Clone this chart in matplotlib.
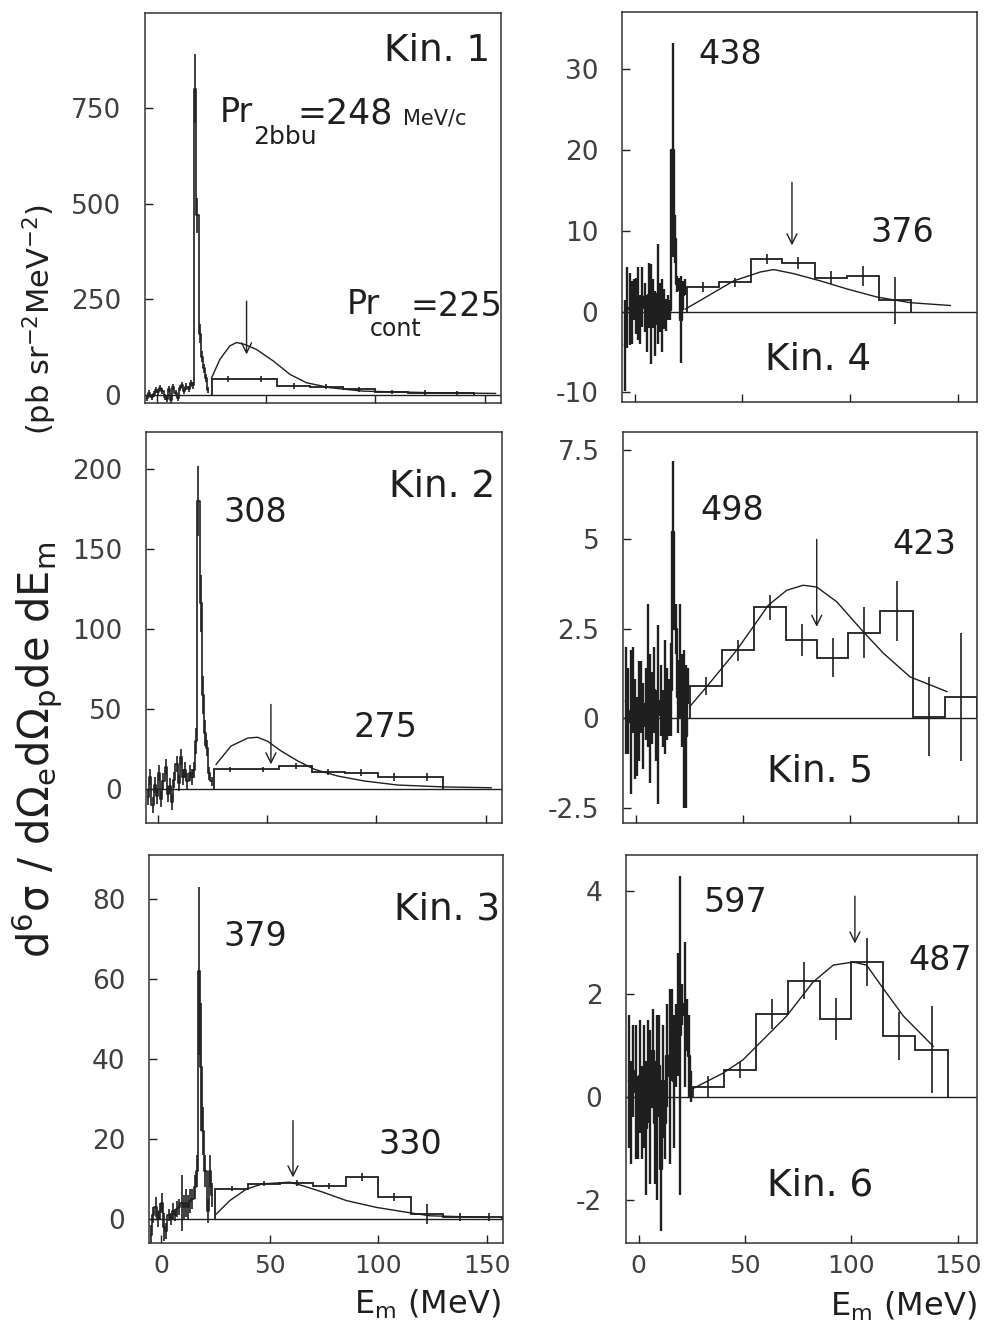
import numpy as np
import matplotlib
matplotlib.use('Agg')
import matplotlib.pyplot as plt

plt.rcParams['font.family'] = ['DejaVu Sans']
plt.rcParams['mathtext.fontset'] = 'dejavusans'
plt.rcParams['axes.unicode_minus'] = False

W, H = 984, 1322
INK = '0.12'

# fine-binned spectrum centres (1 MeV bins), shared by all panels
FINE_E = [-4.5, -3.5, -2.5, -1.5, -0.5, 0.5, 1.5, 2.5, 3.5, 4.5,
          5.5, 6.5, 7.5, 8.5, 9.5, 10.5, 11.5, 12.5, 13.5, 14.5,
          15.5, 16.5, 17.5, 18.5, 19.5, 20.5, 21.5, 22.5, 23.5, 24.5]

KIN_LABELS = ['Kin. 1', 'Kin. 2', 'Kin. 3', 'Kin. 4', 'Kin. 5', 'Kin. 6']
P_2BBU = [248, 308, 379, 438, 498, 597]
P_CONT = [225, 275, 330, 376, 423, 487]

# Kin. 1
K1_FINE = [-8, 5, -6, 3, 12, 8, 18, 10, -5, -10, 15, -12, 20, 5, -8, 18, 25, 10, 22, 15,
           30, 25, 800, 469, 160, 100, 70, 45, 13]
K1_FINE_ERR = [8, 8, 8, 8, 8, 8, 8, 8, 8, 8, 8, 8, 8, 8, 8, 8, 8, 8, 8, 8,
               8, 10, 90, 45, 25, 15, 12, 10, 8]
K1_EDGES = [25, 40, 55, 70, 85, 100, 115, 130, 145]
K1_CONT = [41, 41, 23, 22, 15, 8, 6, 5]
K1_CONT_ERR = [8, 8, 7, 7, 6, 6, 6, 6]
K1_TH_E = [25, 28.8, 33.3, 36.4, 40.2, 45.5, 53.2, 60.8, 68.4, 79.1, 94.3, 124.8, 155]
K1_TH_V = [45, 93, 128, 137, 132, 119, 89, 54, 32, 19, 10, 6, 4]
K1_ARROW = (41, 245, 106)

# Kin. 2
K2_FINE = [-5, 8, -10, 3, -4, 10, -6, 5, 14, -3, 2, -8, 6, 16, 4, 20, 8, 12, 5, 10,
           8, 12, 30, 180, 116, 59, 35, 26, 10, 5]
K2_FINE_ERR = [5, 5, 5, 5, 5, 5, 5, 5, 5, 5, 5, 5, 5, 5, 5, 5, 5, 5, 5, 5,
               5, 5, 8, 22, 18, 12, 8, 5, 4, 3]
K2_EDGES = [25.5, 40.5, 55.5, 70.5, 85.5, 100.5, 115.5, 130.5]
K2_CONT = [12.5, 12.5, 14.6, 11.0, 10.4, 7.7, 7.5]
K2_CONT_ERR = [1.5, 1.5, 1.8, 1.8, 2.0, 2.2, 2.5]
K2_TH_E = [26.6, 33.4, 41.1, 45.6, 50.2, 56.3, 64, 71.6, 82.3, 94.5, 109.7, 131, 152.5]
K2_TH_V = [15.6, 27, 32, 32.5, 30, 24, 17.7, 12.5, 8.3, 5.2, 2.7, 1.5, 1.0]
K2_ARROW = (51.7, 53, 15.6)

# Kin. 3
K3_FINE = [-4, 1, 3, 0, 2, 4, -2, -3, 1, 0, 2, 1, 2.5, 3, 4, 3, 4, 3, 4.5, 5,
           8, 12, 62, 38, 22, 12, 2, 12, 6]
K3_FINE_ERR = [2.5, 2, 2.5, 2, 2, 2.5, 3.5, 2, 1.5, 1.5, 2, 1.5, 2, 2, 7, 3, 3.5, 3, 3, 2.5,
               3, 4, 21, 16, 6, 4, 3, 4, 3]
K3_EDGES = [25, 40, 55, 70, 85, 100, 115, 130, 145, 157]
K3_CONT = [7.6, 8.8, 9.0, 8.3, 10.5, 5.4, 1.3, 0.6, 0.5]
K3_CONT_ERR = [0.6, 0.6, 0.7, 0.8, 0.9, 1.0, 2.5, 1.0, 1.0]
K3_TH_E = [25.5, 31.7, 39.4, 47, 59.3, 65.4, 74.6, 85.4, 99.2, 113, 123.8, 149.9]
K3_TH_V = [1.25, 4.6, 7.5, 8.8, 9.2, 8.3, 6.7, 4.6, 2.9, 1.7, 0.8, 0.4]
K3_ARROW = (60.8, 24.6, 10.4)

# Kin. 4
K4_FINE = [-4.2, 0.5, 0.3, -0.1, 1.5, 0.7, 1.0, -1.0, 1.8, 0.5, -1.5, 2.0, -0.3, 1.0, -1.5,
           2.2, 0.5, -0.5, 0.3, -0.4, 0.5, 0.2, 20.0, 9.0, 3.4, 3.3, -1.0, 2.0, 3.0]
K4_FINE_ERR = [5.6, 5.0, 4.5, 3.9, 2.5, 3.5, 4.5, 3.0, 3.7, 3.0, 3.5, 4.0, 6.2, 3.0, 4.0,
               6.2, 3.0, 4.5, 2.5, 2.0, 1.5, 1.2, 13.3, 3.0, 1.0, 0.8, 5.4, 1.8, 1.0]
K4_EDGES = [24, 39, 54, 68.5, 83.5, 98.5, 113.5, 128.5]
K4_CONT = [3.0, 3.6, 6.5, 6.0, 4.2, 4.4, 1.4]
K4_CONT_ERR = [0.6, 0.5, 0.6, 0.7, 0.8, 1.2, 2.9]
K4_TH_E = [23.4, 35, 45.9, 58.3, 64.5, 73.7, 86.2, 98.6, 112.5, 128, 146.6]
K4_TH_V = [0.3, 2.1, 3.8, 4.9, 5.2, 4.7, 3.8, 2.8, 1.8, 1.1, 0.75]
K4_ARROW = (73, 16, 8.2)

# Kin. 5
K5_FINE = [0.5, 0.2, -0.1, 0.8, -0.3, -0.5, 0.2, 0.6, -0.2, 0.4, 1.2, 0.0, 0.3, 0.8, -0.2,
           0.1, 0.5, 0.0, 0.6, 0.4, 0.3, 0.8, 5.2, 2.5, 0.6, 1.6, 0.5, -0.3, -0.5, 0.9]
K5_FINE_ERR = [1.5, 1.2, 2.0, 1.2, 1.4, 1.1, 1.4, 1.0, 1.2, 1.0, 2.0, 1.8, 1.0, 1.2, 1.0,
               2.5, 1.0, 0.8, 1.6, 1.0, 0.8, 1.3, 2.0, 0.7, 1.0, 1.6, 1.3, 2.2, 2.0, 0.5]
K5_EDGES = [25, 40, 55, 70, 84.5, 99, 114, 129, 144, 159]
K5_CONT = [0.9, 1.9, 3.1, 2.2, 1.7, 2.4, 3.0, 0.05, 0.6]
K5_CONT_ERR = [0.25, 0.3, 0.35, 0.45, 0.55, 0.7, 0.85, 1.1, 1.8]
K5_TH_E = [25.1, 32.9, 46.9, 54.7, 61.7, 70.3, 78, 84.3, 93.6, 106, 115.4, 127.8, 145]
K5_TH_V = [0.33, 0.88, 1.9, 2.56, 3.16, 3.58, 3.72, 3.67, 3.26, 2.42, 1.82, 1.16, 0.75]
K5_ARROW = (84.3, 5.0, 2.56)

# Kin. 6
K6_FINE = [0.3, -0.3, 0.5, 0.1, -0.4, 0.4, -0.3, 0.2, -0.6, 0.5, -0.2, 0.9, -0.5, -0.2, 0.6,
           -1.4, 0.3, -0.5, 0.8, 0.4, 1.2, 0.3, 1.0, 1.6, 1.2, 1.8, 1.6, 1.4, 0.8, 0.2]
K6_FINE_ERR = [1.3, 1.0, 0.9, 1.3, 0.8, 1.1, 0.9, 1.2, 1.3, 1.0, 1.5, 0.8, 1.2, 1.8, 1.0,
               1.2, 1.1, 0.7, 1.0, 1.7, 0.9, 1.3, 0.8, 1.2, 3.1, 0.4, 1.4, 0.5, 0.8, 0.3]
K6_EDGES = [25.5, 40, 55, 70, 85, 100, 115, 130, 145.5]
K6_CONT = [0.2, 0.52, 1.61, 2.26, 1.51, 2.62, 1.18, 0.92]
K6_CONT_ERR = [0.2, 0.15, 0.3, 0.36, 0.41, 0.46, 0.46, 0.84]
K6_TH_E = [25.4, 39.6, 49, 55.3, 69.5, 81.9, 91.4, 100.8, 107.1, 115, 124.4, 138.5]
K6_TH_V = [0.16, 0.46, 0.72, 0.98, 1.57, 2.23, 2.56, 2.62, 2.56, 2.1, 1.57, 0.98]
K6_ARROW = (101.6, 3.9, 2.98)

# panel layout: pixel box (left, top, right, bottom), ylim, yticks
panels = [
    dict(box=(145, 13, 501, 403), ylim=(-21, 998), yt=[0, 250, 500, 750],
         fine=K1_FINE, ferr=K1_FINE_ERR, edges=K1_EDGES, cont=K1_CONT, cerr=K1_CONT_ERR,
         the=K1_TH_E, thv=K1_TH_V, arrow=K1_ARROW),
    dict(box=(146, 432, 502, 823), ylim=(-21, 223), yt=[0, 50, 100, 150, 200],
         fine=K2_FINE, ferr=K2_FINE_ERR, edges=K2_EDGES, cont=K2_CONT, cerr=K2_CONT_ERR,
         the=K2_TH_E, thv=K2_TH_V, arrow=K2_ARROW),
    dict(box=(149, 855, 503, 1243), ylim=(-6, 91), yt=[0, 20, 40, 60, 80],
         fine=K3_FINE, ferr=K3_FINE_ERR, edges=K3_EDGES, cont=K3_CONT, cerr=K3_CONT_ERR,
         the=K3_TH_E, thv=K3_TH_V, arrow=K3_ARROW),
    dict(box=(622, 12, 977, 402), ylim=(-11.2, 37.1), yt=[-10, 0, 10, 20, 30],
         fine=K4_FINE, ferr=K4_FINE_ERR, edges=K4_EDGES, cont=K4_CONT, cerr=K4_CONT_ERR,
         the=K4_TH_E, thv=K4_TH_V, arrow=K4_ARROW),
    dict(box=(623, 432, 977, 823), ylim=(-2.92, 8.0), yt=[-2.5, 0, 2.5, 5, 7.5],
         fine=K5_FINE, ferr=K5_FINE_ERR, edges=K5_EDGES, cont=K5_CONT, cerr=K5_CONT_ERR,
         the=K5_TH_E, thv=K5_TH_V, arrow=K5_ARROW),
    dict(box=(626, 855, 977, 1243), ylim=(-2.84, 4.7), yt=[-2, 0, 2, 4],
         fine=K6_FINE, ferr=K6_FINE_ERR, edges=K6_EDGES, cont=K6_CONT, cerr=K6_CONT_ERR,
         the=K6_TH_E, thv=K6_TH_V, arrow=K6_ARROW),
]

fig = plt.figure(figsize=(W / 100, H / 100), dpi=100)


def ftext(x, y, s, **kw):
    kw.setdefault('color', INK)
    kw.setdefault('va', 'center')
    fig.text(x / W, 1 - y / H, s, **kw)


for i, p in enumerate(panels):
    l, t, r, b = p['box']
    ax = fig.add_axes([l / W, 1 - b / H, (r - l) / W, (b - t) / H])
    ax.set_xlim((-5.5, 157.5) if i < 3 else (-6, 159))
    ax.set_ylim(p['ylim'])

    # noisy low-E part is drawn heavier in the right column
    flw = 1.2 if i < 3 else 1.7
    ax.axhline(0, color=INK, lw=1.0)
    n = len(p['fine'])
    e = FINE_E[:n]
    ax.plot(e, p['fine'], drawstyle='steps-mid', color=INK, lw=flw)
    ax.errorbar(e, p['fine'], yerr=p['ferr'], fmt='none', ecolor=INK, elinewidth=flw)

    edges = np.array(p['edges'])
    ax.stairs(p['cont'], edges, baseline=0, color=INK, lw=1.3)
    mids = (edges[:-1] + edges[1:]) / 2
    ax.errorbar(mids, p['cont'], yerr=p['cerr'], fmt='none', ecolor=INK, elinewidth=1.2)

    ax.plot(p['the'], p['thv'], color=INK, lw=1.0)

    xa, ytail, ytip = p['arrow']
    ax.annotate('', xy=(xa, ytip), xytext=(xa, ytail),
                arrowprops=dict(arrowstyle='->', color=INK, lw=1.0,
                                mutation_scale=18, shrinkA=0, shrinkB=0))

    ax.set_yticks(p['yt'])
    ax.set_yticklabels(['%g' % v for v in p['yt']])
    ax.set_xticks([0, 50, 100, 150])
    ax.tick_params(direction='in', length=6, width=1.0, colors=INK,
                   top=False, right=False)
    ax.tick_params(axis='y', labelsize=19, pad=17, labelcolor='0.25')
    ax.tick_params(axis='x', labelsize=18, pad=8, labelcolor='0.25')
    if i not in (2, 5):
        ax.set_xticklabels([])
    for s in ax.spines.values():
        s.set_color('0.2')
        s.set_linewidth(1.1)

# panel annotations
ftext(490, 51, KIN_LABELS[0], fontsize=27, ha='right')
ftext(495, 487, KIN_LABELS[1], fontsize=27, ha='right')
ftext(500, 910, KIN_LABELS[2], fontsize=27, ha='right')
ftext(765, 360, KIN_LABELS[3], fontsize=27, ha='left')
ftext(767, 771, KIN_LABELS[4], fontsize=27, ha='left')
ftext(767, 1185, KIN_LABELS[5], fontsize=27, ha='left')

# Kin. 1 momenta
ftext(220, 112, 'Pr', fontsize=24, ha='left')
ftext(253, 137, '2bbu', fontsize=18, ha='left')
ftext(297, 114, '=%d' % P_2BBU[0], fontsize=25, ha='left')
ftext(403, 118, 'MeV/c', fontsize=15, ha='left')
ftext(347, 305, 'Pr', fontsize=24, ha='left')
ftext(370, 329, 'cont', fontsize=17, ha='left')
ftext(410, 306, '=%d' % P_CONT[0], fontsize=24, ha='left')

ftext(223, 512, str(P_2BBU[1]), fontsize=24, ha='left')
ftext(353, 727, str(P_CONT[1]), fontsize=24, ha='left')
ftext(223, 936, str(P_2BBU[2]), fontsize=24, ha='left')
ftext(378, 1145, str(P_CONT[2]), fontsize=24, ha='left')
ftext(698, 55, str(P_2BBU[3]), fontsize=24, ha='left')
ftext(870, 233, str(P_CONT[3]), fontsize=24, ha='left')
ftext(700, 510, str(P_2BBU[4]), fontsize=24, ha='left')
ftext(892, 545, str(P_CONT[4]), fontsize=24, ha='left')
ftext(703, 902, str(P_2BBU[5]), fontsize=24, ha='left')
ftext(908, 960, str(P_CONT[5]), fontsize=24, ha='left')

# axis titles
ftext(37, 750, r'$\mathrm{d^6\sigma\ /\ d\Omega_e d\Omega_p de\ dE_m}$',
      fontsize=30, rotation=90, ha='center')
ftext(40, 319, r'(pb sr$^{-2}$MeV$^{-2}$)', fontsize=22, rotation=90, ha='center')
ftext(501, 1304, r'$\mathrm{E_m}$ (MeV)', fontsize=23, ha='right')
ftext(977, 1306, r'$\mathrm{E_m}$ (MeV)', fontsize=23, ha='right')

fig.savefig('out.png', dpi=100)
